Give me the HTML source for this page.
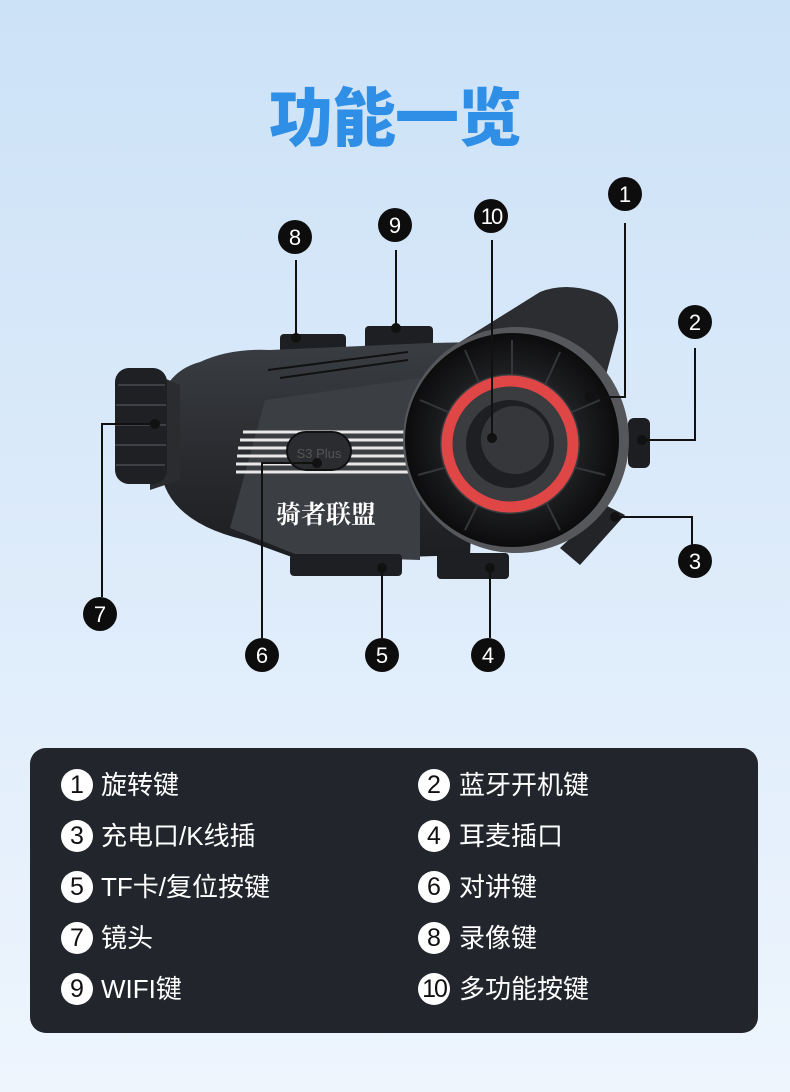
<!DOCTYPE html>
<html><head><meta charset="utf-8"><style>
html,body{margin:0;padding:0}
body{width:790px;height:1092px;overflow:hidden;background:linear-gradient(180deg,#cce2f7 0%,#dbeafa 45%,#eef5fd 100%);font-family:"Liberation Sans","Noto Sans CJK SC",sans-serif;position:relative}
.t{position:absolute;left:0;width:790px;top:68px;text-align:center;font-size:64px;font-weight:900;color:#2f8ee5;letter-spacing:-1px;font-family:"Noto Sans CJK SC",sans-serif}
.box{position:absolute;left:30px;top:748px;width:728px;height:285px;background:#22262c;border-radius:16px}
.it{position:absolute;color:#fff;font-size:26px;line-height:30px;font-family:"Liberation Sans","Noto Sans CJK SC",sans-serif}
.n{position:absolute;width:32px;height:32px;border-radius:50%;background:#fff;color:#111;font-size:25px;line-height:32px;text-align:center}
</style></head><body>
<div class="t">功能一览</div>
<svg width="790" height="1092" style="position:absolute;left:0;top:0">
<defs>
<linearGradient id="bd" x1="0" y1="0" x2="0" y2="1"><stop offset="0" stop-color="#3a3d42"/><stop offset="0.5" stop-color="#2a2c30"/><stop offset="1" stop-color="#1c1d20"/></linearGradient>
<radialGradient id="dl" cx="0.5" cy="0.5" r="0.5"><stop offset="0.6" stop-color="#202124"/><stop offset="1" stop-color="#0c0c0d"/></radialGradient>
</defs>
<path d="M455,345 L540,292 Q565,282 595,292 Q620,300 618,330 L606,375 L560,400 Z" fill="#2b2d31"/>
<rect x="280" y="334" width="66" height="22" rx="4" fill="#1e1f22"/>
<rect x="365" y="326" width="68" height="24" rx="4" fill="#1e1f22"/>
<path d="M200,362 Q230,348 270,350 L430,343 L480,342 L470,555 L300,560 L245,540 Q160,520 160,460 L160,400 Q170,370 200,362 Z" fill="url(#bd)"/>
<path d="M265,400 L420,378 L420,560 L300,556 L230,528 Z" fill="#3b3e43"/>
<g stroke="#e8e8e8" stroke-width="3">
<line x1="243" y1="432" x2="420" y2="432"/><line x1="240" y1="440" x2="420" y2="440"/><line x1="238" y1="448" x2="420" y2="448"/><line x1="237" y1="456" x2="420" y2="456"/><line x1="236" y1="464" x2="420" y2="464"/><line x1="236" y1="472" x2="420" y2="472"/></g>
<line x1="268" y1="370" x2="408" y2="352" stroke="#111" stroke-width="2"/>
<line x1="280" y1="378" x2="408" y2="360" stroke="#111" stroke-width="2"/>
<rect x="287" y="432" width="64" height="38" rx="19" fill="#2b2c30" stroke="#111" stroke-width="2"/>
<text x="319" y="458" font-size="13" fill="#555" text-anchor="middle" font-family="Liberation Sans">S3 Plus</text>
<text x="326" y="523" font-size="25" fill="#fff" text-anchor="middle" font-family="Noto Serif CJK SC,serif" font-weight="bold">骑者联盟</text>
<path d="M150,372 L180,385 L180,480 L150,490 Z" fill="#2a2c30"/>
<rect x="115" y="368" width="52" height="116" rx="14" fill="#1f2023"/>
<g stroke="#3e4045" stroke-width="2"><line x1="118" y1="385" x2="165" y2="385"/><line x1="116" y1="405" x2="166" y2="405"/><line x1="115" y1="425" x2="166" y2="425"/><line x1="115" y1="445" x2="166" y2="445"/><line x1="116" y1="465" x2="165" y2="465"/></g>
<rect x="290" y="554" width="112" height="22" rx="4" fill="#1e1f22"/>
<rect x="437" y="553" width="72" height="26" rx="4" fill="#1e1f22"/>
<rect x="628" y="418" width="22" height="50" rx="6" fill="#1d1e21"/>
<path d="M605,505 L625,515 L580,565 L560,548 Z" fill="#232428"/>
<circle cx="516" cy="440" r="113" fill="#55575b"/>
<circle cx="512" cy="440" r="107" fill="url(#dl)"/>
<g stroke="#34363a" stroke-width="2">
<line x1="512" y1="340" x2="512" y2="380"/><line x1="560" y1="352" x2="545" y2="385"/><line x1="600" y1="400" x2="565" y2="415"/><line x1="605" y1="475" x2="565" y2="465"/><line x1="560" y1="530" x2="545" y2="500"/><line x1="465" y1="530" x2="480" y2="500"/><line x1="418" y1="475" x2="455" y2="465"/><line x1="420" y1="400" x2="455" y2="415"/><line x1="465" y1="350" x2="480" y2="385"/></g>
<circle cx="510" cy="444" r="70" fill="#3a3c40"/>
<circle cx="510" cy="444" r="63" fill="none" stroke="#e04646" stroke-width="11"/>
<circle cx="510" cy="444" r="44" fill="#1e1f22"/>
<circle cx="515" cy="440" r="34" fill="#35373b"/>
<g stroke="#111" stroke-width="2" fill="none">
<polyline points="625,223 625,397 590,397"/>
<polyline points="695,348 695,440 642,440"/>
<polyline points="692,575 692,517 615,517"/>
<line x1="490" y1="568" x2="490" y2="638"/>
<line x1="382" y1="568" x2="382" y2="638"/>
<polyline points="317,463 262,463 262,638"/>
<polyline points="155,424 102,424 102,597"/>
<line x1="296" y1="338" x2="296" y2="260"/>
<line x1="396" y1="328" x2="396" y2="250"/>
<line x1="492" y1="435" x2="492" y2="240"/>
</g>
<g fill="#111">
<circle cx="590" cy="397" r="5"/><circle cx="642" cy="440" r="5"/><circle cx="615" cy="517" r="5"/><circle cx="490" cy="568" r="5"/><circle cx="382" cy="568" r="5"/><circle cx="317" cy="463" r="5"/><circle cx="155" cy="424" r="5"/><circle cx="296" cy="338" r="5"/><circle cx="396" cy="328" r="5"/><circle cx="492" cy="438" r="5"/>
</g>
<g fill="#0d0d0d">
<circle cx="625" cy="194" r="17"/><circle cx="695" cy="322" r="17"/><circle cx="695" cy="561" r="17"/><circle cx="488" cy="655" r="17"/><circle cx="382" cy="655" r="17"/><circle cx="262" cy="655" r="17"/><circle cx="100" cy="614" r="17"/><circle cx="295" cy="237" r="17"/><circle cx="395" cy="225" r="17"/><circle cx="491" cy="216" r="17"/>
</g>
<g fill="#fff" font-size="22" text-anchor="middle" font-family="Liberation Sans">
<text x="625" y="202">1</text><text x="695" y="330">2</text><text x="695" y="569">3</text><text x="488" y="663">4</text><text x="382" y="663">5</text><text x="262" y="663">6</text><text x="100" y="622">7</text><text x="295" y="245">8</text><text x="395" y="233">9</text><text x="491" y="224" letter-spacing="-2">10</text>
</g>
</svg>
<div class="box"></div>
<div class="n" style="left:61px;top:769px">1</div><div class="it" style="left:101px;top:770px">旋转键</div>
<div class="n" style="left:61px;top:820px">3</div><div class="it" style="left:101px;top:821px">充电口/K线插</div>
<div class="n" style="left:61px;top:871px">5</div><div class="it" style="left:101px;top:872px">TF卡/复位按键</div>
<div class="n" style="left:61px;top:922px">7</div><div class="it" style="left:101px;top:923px">镜头</div>
<div class="n" style="left:61px;top:973px">9</div><div class="it" style="left:101px;top:974px">WIFI键</div>
<div class="n" style="left:418px;top:769px">2</div><div class="it" style="left:459px;top:770px">蓝牙开机键</div>
<div class="n" style="left:418px;top:820px">4</div><div class="it" style="left:459px;top:821px">耳麦插口</div>
<div class="n" style="left:418px;top:871px">6</div><div class="it" style="left:459px;top:872px">对讲键</div>
<div class="n" style="left:418px;top:922px">8</div><div class="it" style="left:459px;top:923px">录像键</div>
<div class="n" style="left:418px;top:973px;letter-spacing:-2px">10</div><div class="it" style="left:459px;top:974px">多功能按键</div>
</body></html>
